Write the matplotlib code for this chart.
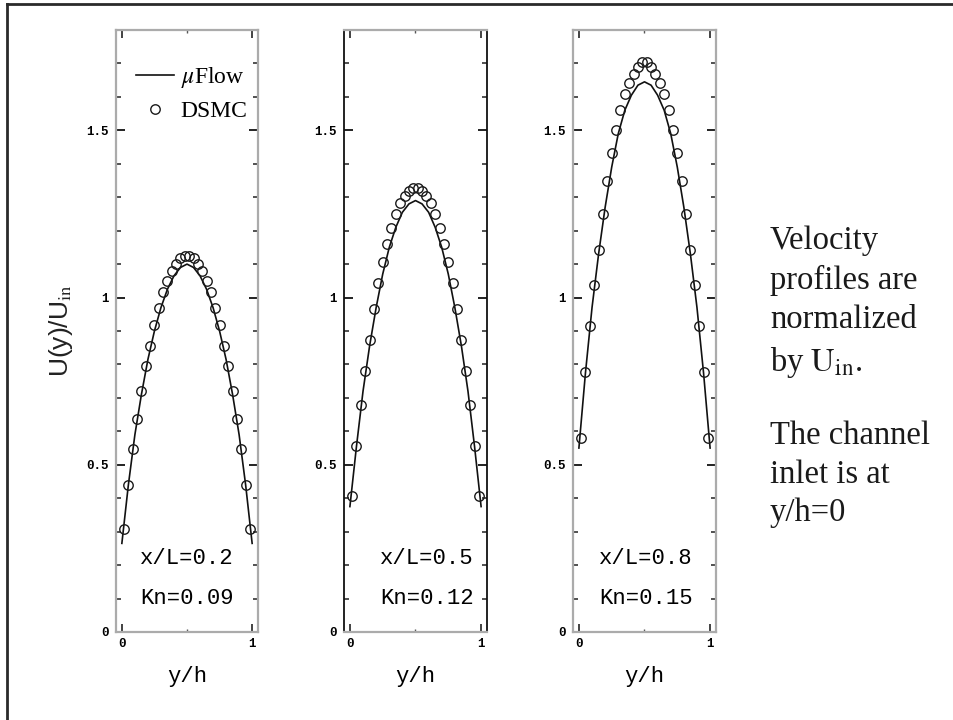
#!/usr/bin/env python
"""Velocity profiles across the channel: muFlow vs DSMC at three stations"""

import matplotlib
matplotlib.use("Agg")
import matplotlib.pyplot as plt
from matplotlib.lines import Line2D
from matplotlib.ticker import MultipleLocator, FixedLocator

# DSMC cell centres across the channel (y/h)
yh_dsmc = [0.017, 0.050, 0.083, 0.117, 0.150, 0.183, 0.217, 0.250, 0.283, 0.317,
           0.350, 0.383, 0.417, 0.450, 0.483, 0.517, 0.550, 0.583, 0.617, 0.650,
           0.683, 0.717, 0.750, 0.783, 0.817, 0.850, 0.883, 0.917, 0.950, 0.983]

u_dsmc_02 = [0.307, 0.440, 0.547, 0.637, 0.722, 0.794, 0.854, 0.919, 0.969, 1.016,
             1.049, 1.079, 1.099, 1.118, 1.125, 1.125, 1.118, 1.099, 1.079, 1.049,
             1.016, 0.969, 0.919, 0.854, 0.794, 0.722, 0.637, 0.547, 0.440, 0.307]
u_dsmc_05 = [0.407, 0.557, 0.680, 0.781, 0.874, 0.966, 1.044, 1.106, 1.161, 1.209,
             1.249, 1.283, 1.303, 1.318, 1.328, 1.328, 1.318, 1.303, 1.283, 1.249,
             1.209, 1.161, 1.106, 1.044, 0.966, 0.874, 0.781, 0.680, 0.557, 0.407]
u_dsmc_08 = [0.580, 0.776, 0.916, 1.039, 1.141, 1.251, 1.348, 1.433, 1.501, 1.561,
             1.608, 1.643, 1.668, 1.688, 1.703, 1.703, 1.688, 1.668, 1.643, 1.608,
             1.561, 1.501, 1.433, 1.348, 1.251, 1.141, 1.039, 0.916, 0.776, 0.580]

# muFlow solution
yh_line = [0.00, 0.05, 0.10, 0.15, 0.20, 0.25, 0.30, 0.35, 0.40, 0.45, 0.50,
           0.55, 0.60, 0.65, 0.70, 0.75, 0.80, 0.85, 0.90, 0.95, 1.00]
u_line_02 = [0.265, 0.440, 0.590, 0.710, 0.815, 0.900, 0.970, 1.025, 1.065, 1.090, 1.100,
             1.090, 1.065, 1.025, 0.970, 0.900, 0.815, 0.710, 0.590, 0.440, 0.265]
u_line_05 = [0.375, 0.555, 0.720, 0.855, 0.970, 1.070, 1.150, 1.210, 1.255, 1.280, 1.290,
             1.280, 1.255, 1.210, 1.150, 1.070, 0.970, 0.855, 0.720, 0.555, 0.375]
u_line_08 = [0.550, 0.775, 0.970, 1.130, 1.270, 1.390, 1.490, 1.560, 1.605, 1.635, 1.645,
             1.635, 1.605, 1.560, 1.490, 1.390, 1.270, 1.130, 0.970, 0.775, 0.550]

stations = ["x/L=0.2", "x/L=0.5", "x/L=0.8"]
knudsen = ["Kn=0.09", "Kn=0.12", "Kn=0.15"]
ytick_vals = [0, 0.5, 1, 1.5]
ytick_text = ["0", "0.5", "1", "1.5"]
xtick_vals = [0, 1]
xtick_text = ["0", "1"]

SPINE_GRAY = "#ababab"
MONO = "Liberation Mono"
SERIF = "Liberation Serif"

plt.rcParams["mathtext.fontset"] = "stix"

W, H = 954, 720
fig = plt.figure(figsize=(W / 100, H / 100), dpi=100)

# axes boxes in pixels: left, right
boxes = [(116, 258), (344, 487), (573, 716)]
top_px, bot_px = 30, 632
label_x = [0.50, 0.58, 0.51]

dsmc = [u_dsmc_02, u_dsmc_05, u_dsmc_08]
lines = [u_line_02, u_line_05, u_line_08]

axes = []
for i, (l, r) in enumerate(boxes):
    ax = fig.add_axes([l / W, (H - bot_px) / H, (r - l) / W,
                       (bot_px - top_px) / H])
    axes.append(ax)
    ax.plot(yh_line, lines[i], color="#111111", lw=1.2, zorder=2)
    ax.plot(yh_dsmc, dsmc[i], "o", ms=6.8, mfc="none", mec="#1a1a1a",
            mew=1.0, zorder=3)

    ax.set_xlim(-0.045, 1.045)
    ax.set_ylim(0, 1.8)

    ax.yaxis.set_major_locator(FixedLocator(ytick_vals))
    ax.yaxis.set_minor_locator(MultipleLocator(0.1))
    ax.xaxis.set_major_locator(FixedLocator(xtick_vals))
    ax.xaxis.set_minor_locator(FixedLocator([0.5]))
    ax.set_yticklabels(ytick_text, family=MONO, fontsize=9, weight="bold")
    ax.set_xticklabels(xtick_text, family=MONO, fontsize=9, weight="bold")

    ax.tick_params(axis="y", which="major", direction="in", length=6.5,
                   width=1.4, color="#222222", right=True, pad=5)
    ax.tick_params(axis="y", which="minor", direction="in", length=3.5,
                   width=1.2, color="#333333", right=True)
    ax.tick_params(axis="x", which="major", direction="in", length=5.5,
                   width=1.2, color="#222222", top=True, pad=4)
    ax.tick_params(axis="x", which="minor", direction="in", length=2,
                   width=1.0, color="#555555", top=True)

    for name, sp in ax.spines.items():
        sp.set_linewidth(1.6)
        sp.set_color(SPINE_GRAY)
    if i == 1:
        ax.spines["left"].set_color("#111111")
        ax.spines["right"].set_color("#111111")
        ax.spines["left"].set_linewidth(1.3)
        ax.spines["right"].set_linewidth(1.3)

    ax.set_xlabel("y/h", family=MONO, fontsize=16)
    ax.xaxis.set_label_coords(0.5, -0.056)

    ax.text(label_x[i], 0.22 / 1.8, stations[i], transform=ax.transAxes,
            family=MONO, fontsize=16, ha="center", va="center")
    ax.text(label_x[i], 0.10 / 1.8, knudsen[i], transform=ax.transAxes,
            family=MONO, fontsize=16, ha="center", va="center")

axes[0].set_ylabel(r"U(y)/U$_{\mathrm{in}}$", family="Liberation Sans",
                   fontsize=19, color="#222222")
axes[0].yaxis.set_label_coords(-0.29, 0.5)

handles = [Line2D([], [], color="#111111", lw=1.2),
           Line2D([], [], ls="none", marker="o", ms=6.8, mfc="none",
                  mec="#1a1a1a", mew=1.0)]
axes[0].legend(handles, [r"$\mu$Flow", "DSMC"], loc="upper left",
               bbox_to_anchor=(0.14, 0.942), frameon=False,
               prop={"family": SERIF, "size": 17}, handlelength=1.6,
               handletextpad=0.3, labelspacing=0.45, borderpad=0,
               borderaxespad=0)

fig.text(770 / W, 1 - 225 / H,
         "Velocity\nprofiles are\nnormalized\n" + r"by $\mathrm{U}_{\mathrm{in}}$.",
         family=SERIF, fontsize=23.5, ha="left", va="top", linespacing=1.38,
         color="#1a1a1a")
fig.text(770 / W, 1 - 421 / H, "The channel\ninlet is at\ny/h=0",
         family=SERIF, fontsize=23.5, ha="left", va="top", linespacing=1.32,
         color="#1a1a1a")

# outer frame of the slide
fig.add_artist(Line2D([7 / W, 7 / W], [0, 1 - 4 / H], transform=fig.transFigure,
                      color="#2a2a2a", lw=2))
fig.add_artist(Line2D([7 / W, 1], [1 - 4 / H, 1 - 4 / H],
                      transform=fig.transFigure, color="#2a2a2a", lw=2))

fig.savefig("out.png", dpi=100)
